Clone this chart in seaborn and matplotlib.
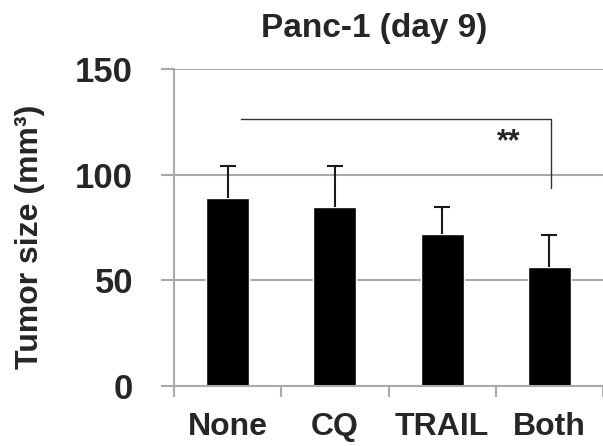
import numpy as np
import pandas as pd
import matplotlib
matplotlib.use('Agg')
import matplotlib.pyplot as plt
import seaborn as sns

groups = ['None', 'CQ', 'TRAIL', 'Both']
tumor_size = [89.0, 84.5, 71.7, 56.0]
sd_upper = [15.2, 19.3, 12.7, 15.5]
bracket_y = 126.3
bracket_drop = 93.6
bracket_x = [0.12, 3.015]
yticks = [0, 50, 100, 150]

sns.set_theme(style='white')
plt.rcParams['font.family'] = ['Liberation Sans', 'DejaVu Sans']

df = pd.DataFrame({'group': groups, 'size': tumor_size})

fig = plt.figure(figsize=(6.03, 4.46), dpi=100)
ax = fig.add_axes([0.2886, 0.1356, 0.7114, 0.7097])

sns.barplot(data=df, x='group', y='size', color='black', width=0.40,
            errorbar=None, saturation=1, ax=ax)
_, caps, _ = ax.errorbar(np.arange(len(groups)), tumor_size,
                         yerr=[np.zeros(len(groups)), sd_upper],
                         fmt='none', ecolor='#1a1a1a', elinewidth=1.5,
                         capsize=6, capthick=1.5)
caps[0].set_visible(False)  # no cap at bar top

grid_c = '#aaaaaa'
ax.set_ylim(0, 150)
ax.set_xlim(-0.5, 3.5)
ax.set_yticks(yticks)
ax.yaxis.grid(True, color=grid_c, linewidth=1.5)
ax.set_axisbelow(True)
for s in ['top', 'right']:
    ax.spines[s].set_visible(False)
for s in ['left', 'bottom']:
    ax.spines[s].set_color(grid_c)
    ax.spines[s].set_linewidth(1.5)

ax.tick_params(axis='y', which='major', length=9.5, width=1.5, color=grid_c,
               direction='out', labelsize=25, pad=20, left=True)
for lab in ax.get_yticklabels():
    lab.set_fontweight('bold')
ax.set_xticks(np.arange(len(groups)))
ax.set_xticklabels(groups, fontsize=23, fontweight='bold')
ax.tick_params(axis='x', which='major', length=0, pad=19)
ax.set_xticks(np.arange(-0.5, 4.0, 1.0), minor=True)
ax.tick_params(axis='x', which='minor', length=8, width=1.5, color=grid_c,
               direction='out', bottom=True)

ax.set_xlabel('')
ax.set_ylabel('')
fig.text(30 / 603, 1 - 237 / 446, 'Tumor size (mm³)', rotation=90,
         ha='center', va='center', fontsize=23, fontweight='bold')
fig.text(374 / 603, 1 - 28 / 446, 'Panc-1 (day 9)', ha='center', va='center',
         fontsize=24, fontweight='bold')

# significance bracket None vs Both
ax.plot([bracket_x[0], bracket_x[1], bracket_x[1]], [bracket_y, bracket_y, bracket_drop],
        color='#333333', linewidth=1.0, clip_on=False)
ax.text(2.62, 115.5, '**', ha='center', va='center', fontsize=22, fontweight='bold')

fig.savefig('out.png', dpi=100)
